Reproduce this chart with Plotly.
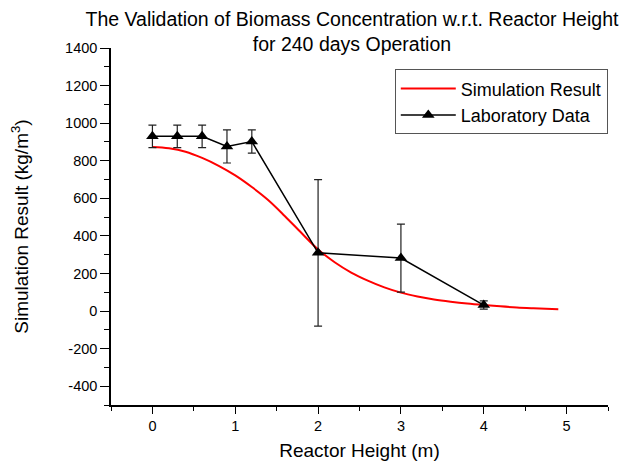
import plotly.graph_objects as go

# Simulation result (red curve)
sim_x = [0, 0.2, 0.4, 0.6, 0.8, 1.0, 1.2, 1.4, 1.6, 1.8, 2.0, 2.2, 2.4, 2.6, 2.8, 3.0,
         3.2, 3.4, 3.6, 3.8, 4.0, 4.2, 4.4, 4.6, 4.9]
sim_y = [873, 866, 848, 815, 773, 722, 660, 590, 505, 415, 328, 260, 205, 162, 126, 98,
         78, 62, 50, 40, 32, 25, 19, 15, 10]

# Laboratory data with error bars
lab_x = [0, 0.3, 0.6, 0.9, 1.2, 2, 3, 4]
lab_y = [930, 930, 930, 876, 902, 310, 282, 32]
lab_err = [60, 60, 60, 88, 62, 390, 181, 22]

# Axis ticks
y_tickvals = [-400, -200, 0, 200, 400, 600, 800, 1000, 1200, 1400]
y_ticktext = ["-400", "-200", "0", "200", "400", "600", "800", "1000", "1200", "1400"]
x_tickvals = [0, 1, 2, 3, 4, 5]
x_ticktext = ["0", "1", "2", "3", "4", "5"]

FONT = "Liberation Sans, Arial, sans-serif"

fig = go.Figure()
fig.add_trace(go.Scatter(
    x=sim_x, y=sim_y, mode="lines", name="Simulation Result",
    line=dict(color="#ff0000", width=2, shape="spline"),
))
fig.add_trace(go.Scatter(
    x=lab_x, y=lab_y, mode="lines+markers", name="Laboratory Data",
    line=dict(color="black", width=1.5),
    marker=dict(symbol="triangle-up", size=11, color="black"),
    error_y=dict(type="data", array=lab_err, visible=True, color="#222222",
                 thickness=1.2, width=4),
))

fig.update_layout(
    width=633, height=461,
    margin=dict(l=111, r=25, t=48, b=56),
    paper_bgcolor="white", plot_bgcolor="white",
    font=dict(family=FONT, color="black", size=14),
    title=dict(text="The Validation of Biomass Concentration w.r.t. Reactor Height<br>for 240 days Operation",
               x=0.556, xanchor="center", xref="container",
               y=0.944, yanchor="middle", yref="container",
               font=dict(size=19.5, family=FONT)),
    showlegend=True,
    legend=dict(x=0.571, y=0.94, xanchor="left", yanchor="top",
                bordercolor="#555555", borderwidth=1, bgcolor="white",
                font=dict(size=18, family=FONT), tracegroupgap=0,
                itemwidth=55),
    xaxis=dict(range=[-0.5, 5.5], tickmode="array", tickvals=x_tickvals, ticktext=x_ticktext,
               showgrid=False, zeroline=False, showline=True, linecolor="black",
               linewidth=1.5, ticks="outside", ticklen=7, tickwidth=1.3, tickcolor="black",
               minor=dict(ticks="outside", ticklen=4, tickwidth=1.3, dtick=0.5, tick0=0,
                          tickcolor="black", showgrid=False),
               automargin=False,
               title=dict(text="Reactor Height (m)", font=dict(size=19, family=FONT), standoff=26),
               tickfont=dict(size=14.5)),
    yaxis=dict(range=[-500, 1400], tickmode="array", tickvals=y_tickvals, ticktext=y_ticktext,
               showgrid=False, zeroline=False, showline=True, linecolor="black",
               linewidth=1.5, ticks="outside", ticklen=9, tickwidth=1.3, tickcolor="black",
               minor=dict(ticks="outside", ticklen=5, tickwidth=1.3, dtick=100, tick0=0,
                          tickcolor="black", showgrid=False),
               automargin=False,
               title=dict(text="Simulation Result (kg/m<sup>3</sup>)", font=dict(size=19, family=FONT), standoff=31),
               tickfont=dict(size=14.5)),
)

fig.write_html("out.html")
